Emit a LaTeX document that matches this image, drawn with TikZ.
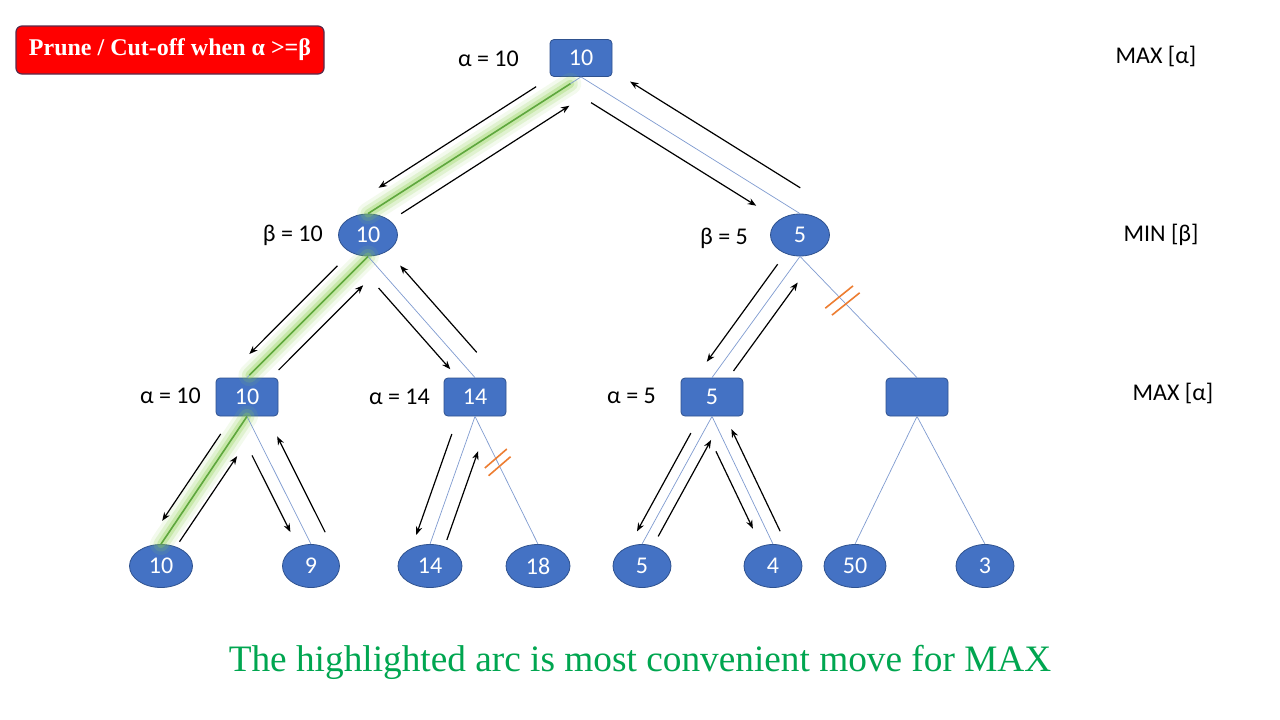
\documentclass[tikz,border=0pt]{standalone}
\usepackage{fontspec}
\setmainfont{Carlito}
\newfontfamily\seriffam{Liberation Serif}
\usetikzlibrary{shapes.geometric,arrows.meta,calc}
\definecolor{nodeblue}{HTML}{4472C4}
\definecolor{nodeedge}{HTML}{2F528F}
\definecolor{edgeblue}{HTML}{7F9BD0}
\definecolor{cutorange}{HTML}{ED7D31}
\definecolor{glowgreen}{HTML}{8FD14F}
\definecolor{hlgreen}{HTML}{5FA83C}
\definecolor{captiongreen}{HTML}{00A650}
\definecolor{pruneedge}{HTML}{5A2A4A}
\newcommand\parr[5]{\draw[arr] ($(#1)!#3!(#2)!#5!-90:(#2)$) -- ($(#1)!#4!(#2)!#5!-90:(#2)$);}
\newcommand\glowline[4]{%
  \draw[glowgreen,line width=22pt,opacity=0.10,line cap=round] ($(#1)!#3!(#2)$) -- ($(#1)!#4!(#2)$);
  \draw[glowgreen,line width=15pt,opacity=0.18,line cap=round] ($(#1)!#3!(#2)$) -- ($(#1)!#4!(#2)$);
  \draw[glowgreen,line width=8pt,opacity=0.30,line cap=round] ($(#1)!#3!(#2)$) -- ($(#1)!#4!(#2)$);
}
\begin{document}
\begin{tikzpicture}[x=1pt,y=-1pt,
  txt/.style={font=\fontsize{24}{28}\selectfont},
  maxnode/.style={rectangle,rounded corners=4pt,fill=nodeblue,draw=nodeedge,line width=0.8pt,
    minimum width=62pt,minimum height=37pt,inner sep=0pt,text=white,txt},
  minnode/.style={ellipse,fill=nodeblue,draw=nodeedge,line width=0.8pt,
    minimum width=59pt,minimum height=42pt,inner sep=0pt,text=white,txt},
  treeedge/.style={draw=edgeblue,line width=0.7pt},
  hledge/.style={draw=hlgreen,line width=1.6pt},
  arr/.style={draw=black,line width=1.2pt,-{Stealth[length=8.5pt,width=6.5pt]}},
  lbl/.style={txt,inner sep=0pt,anchor=east},
  side/.style={txt,inner sep=0pt},
  cutmark/.style={draw=cutorange,line width=1.6pt}]
\useasboundingbox (0,0) rectangle (1280,720);
\fill[white] (0,0) rectangle (1280,720);

% nodes
\node[maxnode] (root) at (581,58) {10};
\node[minnode] (m1) at (368,235) {10};
\node[minnode] (m2) at (800,235) {5};
\node[maxnode,minimum height=38pt] (a) at (247,397) {10};
\node[maxnode,minimum height=38pt] (b) at (475,397) {14};
\node[maxnode,minimum height=38pt] (c) at (712,397) {5};
\node[maxnode,minimum height=38pt] (d) at (917,397) {};
\node[minnode,minimum width=63pt,minimum height=43pt] (l1) at (161,566) {10};
\node[minnode,minimum width=57pt,minimum height=43pt] (l2) at (311,566) {9};
\node[minnode,minimum width=64pt,minimum height=43pt] (l3) at (430,566) {14};
\node[minnode,minimum width=64pt,minimum height=43pt] (l4) at (538,566) {18};
\node[minnode,minimum width=58pt,minimum height=43pt] (l5) at (642,566) {5};
\node[minnode,minimum width=58pt,minimum height=43pt] (l6) at (773,566) {4};
\node[minnode,minimum width=62pt,minimum height=43pt] (l7) at (855,566) {50};
\node[minnode,minimum width=58pt,minimum height=43pt] (l8) at (985,566) {3};

% highlight glow
\begin{scope}
\glowline{root.south}{m1.north}{0.05}{1.0}
\glowline{m1.south}{a.north}{0.0}{0.98}
\glowline{a.south}{l1.north}{0.0}{1.0}
\end{scope}

% tree edges
\draw[treeedge] (root.south) -- (m1.north);
\draw[treeedge] (root.south) -- (m2.north);
\draw[treeedge] (m1.south) -- (a.north);
\draw[treeedge] (m1.south) -- (b.north);
\draw[treeedge] (m2.south) -- (c.north);
\draw[treeedge] (m2.south) -- (d.north);
\draw[treeedge] (a.south) -- (l1.north);
\draw[treeedge] (a.south) -- (l2.north);
\draw[treeedge] (b.south) -- (l3.north);
\draw[treeedge] (b.south) -- (l4.north);
\draw[treeedge] (c.south) -- (l5.north);
\draw[treeedge] (c.south) -- (l6.north);
\draw[treeedge] (d.south) -- (l7.north);
\draw[treeedge] (d.south) -- (l8.north);

% highlighted inner lines
\draw[hledge] ($(root.south)!0.05!(m1.north)$) -- (m1.north);
\draw[hledge] (m1.south) -- ($(m1.south)!0.98!(a.north)$);
\draw[hledge] (a.south) -- (l1.north);

% arrows (down: positive offset, up: negative offset)
\parr{root.south}{m1.north}{0.17}{0.91}{16pt}
\parr{root.south}{m1.north}{0.89}{0.10}{-18pt}
\parr{root.south}{m2.north}{0.086}{0.84}{16.5pt}
\parr{root.south}{m2.north}{0.948}{0.171}{-22pt}
\parr{m1.south}{a.north}{0.165}{0.893}{15pt}
\parr{m1.south}{a.north}{0.838}{0.139}{-17pt}
\parr{m1.south}{b.north}{0.19}{0.86}{13pt}
\parr{m1.south}{b.north}{0.89}{0.174}{-18pt}
\parr{m2.south}{c.north}{0.13}{0.935}{13.5pt}
\parr{m2.south}{c.north}{0.88}{0.15}{-13.5pt}
\parr{a.south}{l1.north}{0.19}{0.87}{12pt}
\parr{a.south}{l1.north}{0.92}{0.25}{-14pt}
\parr{a.south}{l2.north}{0.26}{0.86}{13pt}
\parr{a.south}{l2.north}{0.97}{0.22}{-18pt}
\parr{b.south}{l3.north}{0.18}{0.97}{16pt}
\parr{b.south}{l3.north}{0.93}{0.235}{-14.5pt}
\parr{c.south}{l5.north}{0.17}{0.94}{10.5pt}
\parr{c.south}{l5.north}{0.90}{0.145}{-10.5pt}
\parr{c.south}{l6.north}{0.235}{0.84}{11.5pt}
\parr{c.south}{l6.north}{0.94}{0.14}{-12pt}

% cut-off marks
\draw[cutmark] ($(b.south)!0.33!(l4.north)$) ++(-11,9.5) -- ++(22,-19);
\draw[cutmark] ($(b.south)!0.39!(l4.north)$) ++(-11,9.5) -- ++(22,-19);
\draw[cutmark] ($(m2.south)!0.335!(d.north)$) ++(-13.9,11.2) -- ++(27.7,-22.3);
\draw[cutmark] ($(m2.south)!0.392!(d.north)$) ++(-13.9,11.2) -- ++(27.7,-22.3);

% labels
\node[lbl] (lroot) at (519,59) {α = 10};
\node[lbl] (lm1) at (323,235) {β = 10};
\node[lbl] (lm2) at (748,238) {β = 5};
\node[lbl] (la) at (201,396) {α = 10};
\node[lbl] (lb) at (430,397) {α = 14};
\node[lbl] (lc) at (656,396) {α = 5};
\node[side] (s1) at (1156,56) {MAX [α]};
\node[side] (s2) at (1161,235) {MIN [β]};
\node[side] (s3) at (1173,393) {MAX [α]};

% prune box
\node[rectangle,rounded corners=6pt,fill=red,draw=pruneedge,line width=1.2pt,
  minimum width=308pt,minimum height=48pt,inner sep=0pt,text=white,
  font=\seriffam\bfseries\fontsize{24}{28}\selectfont] (prune) at (170,50)
  {Prune / Cut-off when α >=β};

% caption
\node[text=captiongreen,font=\seriffam\fontsize{37.3}{44}\selectfont,inner sep=0pt] (caption)
  at (640,662) {The highlighted arc is most convenient move for MAX};
\end{tikzpicture}
\end{document}
